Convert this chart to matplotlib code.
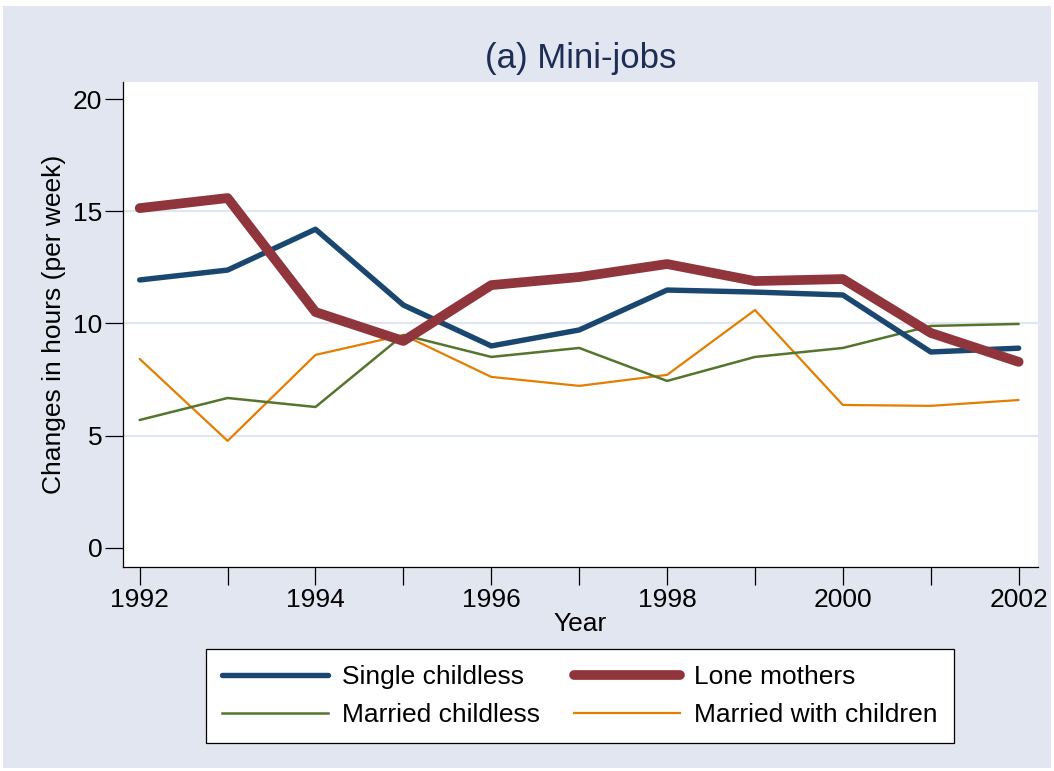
import matplotlib
matplotlib.use("Agg")
import matplotlib.pyplot as plt
from matplotlib.lines import Line2D

years = [1992, 1993, 1994, 1995, 1996, 1997, 1998, 1999, 2000, 2001, 2002]
single_childless = [11.94, 12.38, 14.2, 10.82, 9.0, 9.71, 11.49, 11.40, 11.27, 8.73, 8.9]
lone_mothers = [15.14, 15.59, 10.51, 9.22, 11.71, 12.07, 12.65, 11.89, 11.98, 9.58, 8.29]
married_childless = [5.70, 6.68, 6.28, 9.49, 8.51, 8.91, 7.44, 8.51, 8.91, 9.89, 9.98]
married_children = [8.42, 4.77, 8.60, 9.49, 7.62, 7.22, 7.71, 10.60, 6.37, 6.33, 6.59]

xticks = [1992, 1994, 1996, 1998, 2000, 2002]
yticks = [0, 5, 10, 15, 20]

plt.rcParams['font.family'] = ['Liberation Sans', 'DejaVu Sans']

bg = '#E1E6F0'
fig = plt.figure(figsize=(10.54, 7.71), dpi=100, facecolor='white')
fig.patches.append(plt.Rectangle((3/1054, 3/771), 1048/1054, 762/771, transform=fig.transFigure,
                                 facecolor=bg, edgecolor='none', zorder=-10))

W, H = 1054, 771
left, right, top, bottom = 123, 1038, 82, 567
ax = fig.add_axes([left / W, 1 - bottom / H, (right - left) / W, (bottom - top) / H])
ax.set_facecolor('white')

ax.plot(years, married_children, color='#E37E00', lw=1.6, solid_capstyle='round', zorder=3)
ax.plot(years, married_childless, color='#55752F', lw=1.8, solid_capstyle='round', zorder=3)
ax.plot(years, single_childless, color='#1A476F', lw=3.9, solid_capstyle='round', solid_joinstyle='round', zorder=4)
ax.plot(years, lone_mothers, color='#90353B', lw=7.0, solid_capstyle='round', solid_joinstyle='round', zorder=5)

for g in [5, 10, 15]:
    ax.axhline(g, color=bg, lw=1.6, zorder=1)

ax.set_xlim(1991.81, 2002.22)
ax.set_ylim(-0.85, 20.76)
ax.set_xticks(years)
ax.set_xticklabels([str(y) if y in xticks else '' for y in years])
ax.set_yticks(yticks)
ax.set_yticklabels([str(v) for v in yticks])

for s in ['top', 'right']:
    ax.spines[s].set_visible(False)
for s in ['left', 'bottom']:
    ax.spines[s].set_color('black')
    ax.spines[s].set_linewidth(0.9)

ax.tick_params(axis='both', direction='out', length=13, width=0.9, color='black', labelsize=19)
ax.tick_params(axis='x', pad=2)
ax.tick_params(axis='y', pad=2)

ax.set_xlabel('Year', fontsize=19, labelpad=0)
ax.set_ylabel('Changes in hours (per week)', fontsize=19, labelpad=5)
ax.set_title('(a) Mini-jobs', fontsize=25, color='#1E2D55', pad=10)

handles = [
    Line2D([], [], color='#1A476F', lw=3.9, solid_capstyle='round'),
    Line2D([], [], color='#55752F', lw=1.8),
    Line2D([], [], color='#90353B', lw=7.0, solid_capstyle='round'),
    Line2D([], [], color='#E37E00', lw=1.6),
]
labels = ['Single childless', 'Married childless', 'Lone mothers', 'Married with children']
leg = fig.legend(handles, labels, ncol=2, loc='center', bbox_to_anchor=(580 / W, 1 - 696 / H),
                 fontsize=19, frameon=True, fancybox=False, edgecolor='black', facecolor='white',
                 framealpha=1, handlelength=4.0, handletextpad=0.55, columnspacing=1.3,
                 labelspacing=0.55, borderpad=0.6)
leg.get_frame().set_linewidth(0.9)

fig.savefig('out.png', dpi=100, facecolor='white')
